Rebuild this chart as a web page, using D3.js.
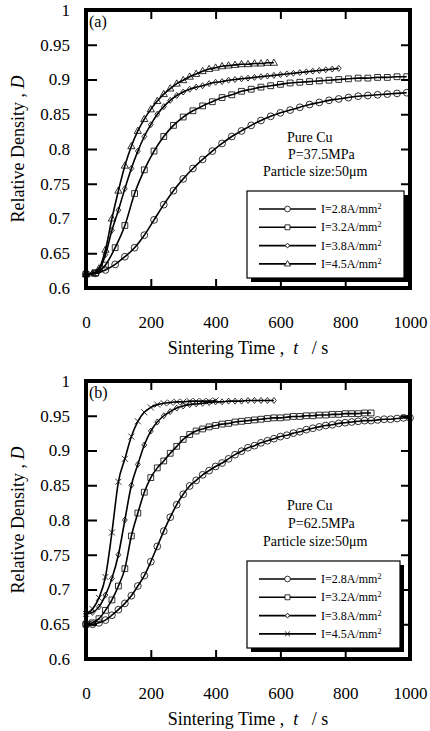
<!DOCTYPE html>
<html>
<head>
<meta charset="utf-8">
<script src="https://cdn.jsdelivr.net/npm/d3@7"></script>
<style>
  body { margin: 0; background: #fff; }
  text { font-family: "Liberation Serif", "Times New Roman", serif; fill: #000; }
</style>
</head>
<body>
<div id="chart-area"></div>
<script>
// sampling times (s)
var time30 = [0, 30, 60, 90, 120, 150, 180, 210, 240, 270, 300, 330, 360, 390, 420, 450, 480,
    510, 540, 570, 600, 630, 660, 690, 720, 750, 780, 810, 840, 870, 900, 930, 960, 990];
var time20 = [0, 20, 40, 60, 80, 100, 120, 140, 160, 180, 200, 220, 240, 260, 280, 300, 320,
    340, 360, 380, 400, 420, 440, 460, 480, 500, 520, 540, 560, 580, 600, 620, 640, 660, 680,
    700, 720, 740, 760, 780, 800, 820, 840, 860, 880, 900, 920, 940, 960, 980, 1000];

// (a) P = 37.5 MPa
var a28 = [0.620, 0.621, 0.626, 0.634, 0.645, 0.658, 0.676, 0.698, 0.720, 0.740, 0.757, 0.772,
    0.785, 0.797, 0.808, 0.818, 0.826, 0.834, 0.841, 0.847, 0.852, 0.856, 0.860, 0.864, 0.867,
    0.870, 0.872, 0.874, 0.876, 0.877, 0.878, 0.879, 0.880, 0.881];
var a32 = [0.620, 0.622, 0.633, 0.658, 0.690, 0.736, 0.770, 0.797, 0.818, 0.834, 0.846, 0.855,
    0.862, 0.868, 0.874, 0.878, 0.883, 0.886, 0.889, 0.891, 0.893, 0.895, 0.896, 0.897, 0.898,
    0.899, 0.900, 0.901, 0.902, 0.902, 0.903, 0.903, 0.904, 0.904];
var a38 = [0.620, 0.621, 0.626, 0.648, 0.683, 0.712, 0.743, 0.772, 0.797, 0.818, 0.835, 0.850,
    0.861, 0.870, 0.877, 0.882, 0.886, 0.889, 0.891, 0.894, 0.896, 0.897, 0.899, 0.900, 0.901,
    0.902, 0.903, 0.904, 0.905, 0.906, 0.907, 0.908, 0.909, 0.910, 0.911, 0.912, 0.913, 0.914,
    0.915, 0.916];
var a45 = [0.620, 0.621, 0.628, 0.655, 0.700, 0.740, 0.776, 0.804, 0.826, 0.843, 0.857, 0.869,
    0.879, 0.887, 0.894, 0.899, 0.904, 0.908, 0.912, 0.915, 0.917, 0.919, 0.920, 0.921, 0.922,
    0.922, 0.923, 0.923, 0.924, 0.924];

// (b) P = 62.5 MPa
var b28 = [0.650, 0.650, 0.652, 0.656, 0.663, 0.671, 0.680, 0.691, 0.705, 0.720, 0.740, 0.762,
    0.784, 0.804, 0.822, 0.837, 0.849, 0.857, 0.865, 0.871, 0.877, 0.882, 0.888, 0.894, 0.899,
    0.904, 0.907, 0.911, 0.914, 0.917, 0.920, 0.922, 0.925, 0.927, 0.930, 0.932, 0.934, 0.936,
    0.937, 0.939, 0.940, 0.941, 0.942, 0.943, 0.943, 0.944, 0.945, 0.945, 0.946, 0.947, 0.947];
var b32 = [0.650, 0.652, 0.658, 0.670, 0.685, 0.705, 0.730, 0.777, 0.810, 0.840, 0.861, 0.875,
    0.885, 0.896, 0.906, 0.916, 0.923, 0.928, 0.931, 0.934, 0.936, 0.938, 0.939, 0.941, 0.942,
    0.943, 0.944, 0.945, 0.946, 0.947, 0.947, 0.948, 0.949, 0.949, 0.950, 0.950, 0.951, 0.951,
    0.952, 0.952, 0.953, 0.953, 0.953, 0.954, 0.954];
var b38 = [0.665, 0.667, 0.675, 0.692, 0.716, 0.750, 0.800, 0.850, 0.880, 0.908, 0.928, 0.941,
    0.950, 0.956, 0.961, 0.964, 0.966, 0.967, 0.968, 0.969, 0.970, 0.970, 0.971, 0.971, 0.971,
    0.972, 0.972, 0.972, 0.972, 0.972];
var b45 = [0.665, 0.672, 0.688, 0.718, 0.782, 0.855, 0.888, 0.920, 0.942, 0.955, 0.962, 0.966,
    0.968, 0.969, 0.970, 0.970, 0.971, 0.971, 0.971, 0.971, 0.972];

var xTicks = [0, 200, 400, 600, 800, 1000];
var yTicks = [0.6, 0.65, 0.7, 0.75, 0.8, 0.85, 0.9, 0.95, 1];
var currents = ["I=2.8A/mm", "I=3.2A/mm", "I=3.8A/mm", "I=4.5A/mm"];

var width = 430, height = 731;
var left = 86, plotW = 324, plotH = 278;

var svg = d3.select("#chart-area")
    .append("svg")
        .attr("width", width)
        .attr("height", height);

svg.append("rect").attr("width", width).attr("height", height).attr("fill", "#fff");

// marker outlines, centred on 0,0
var shapes = {
    circle: function(r){ return "M" + (-r) + ",0A" + r + "," + r + " 0 1,0 " + r + ",0A" + r + "," + r + " 0 1,0 " + (-r) + ",0Z"; },
    square: function(r){ return "M" + (-r) + "," + (-r) + "H" + r + "V" + r + "H" + (-r) + "Z"; },
    diamond: function(r){ return "M0," + (-r * 1.25) + "L" + r + ",0L0," + (r * 1.25) + "L" + (-r) + ",0Z"; },
    triangle: function(r){ return "M0," + (-r) + "L" + (r * 0.95) + "," + (r * 0.65) + "L" + (-r * 0.95) + "," + (r * 0.65) + "Z"; },
    cross: function(r){ return "M" + (-r) + "," + (-r) + "L" + r + "," + r + "M" + (-r) + "," + r + "L" + r + "," + (-r); }
};
var sizes = { circle: 3.4, square: 2.9, diamond: 2.4, triangle: 3.8, cross: 3 };

var panels = [
    { top: 10, tag: "(a)", pressure: "P=37.5MPa",
      note: [132, 149, 166],
      series: [
        { t: time30, v: a28, shape: "circle" },
        { t: time30, v: a32, shape: "square" },
        { t: time20.slice(0, a38.length), v: a38, shape: "diamond" },
        { t: time20.slice(0, a45.length), v: a45, shape: "triangle" }
      ],
      legend: { x: 247, y: 181, w: 157, h: 87 } },
    { top: 381, tag: "(b)", pressure: "P=62.5MPa",
      note: [129, 147, 165],
      series: [
        { t: time20.slice(0, b28.length), v: b28, shape: "circle" },
        { t: time20.slice(0, b32.length), v: b32, shape: "square" },
        { t: time20.slice(0, b38.length), v: b38, shape: "diamond" },
        { t: time20.slice(0, b45.length), v: b45, shape: "cross" }
      ],
      legend: { x: 247, y: 180, w: 153, h: 87 } }
];

panels.forEach(function(p){ drawPanel(p); });

function drawPanel(p) {
    var g = svg.append("g")
        .attr("transform", "translate(" + left + ", " + p.top + ")");

    var x = d3.scaleLinear().domain([0, 1000]).range([0, plotW]);
    var y = d3.scaleLinear().domain([0.6, 1]).range([plotH, 0]);

    // X Axis (ticks inward)
    var xAxis = g.append("g")
        .attr("transform", "translate(0," + plotH + ")")
        .call(d3.axisBottom(x).tickValues(xTicks).tickSize(-9).tickPadding(28)
            .tickFormat(d3.format("d")));
    var xTop = g.append("g")
        .call(d3.axisTop(x).tickValues(xTicks).tickSize(-9).tickFormat(""));

    // Y Axis
    var yAxis = g.append("g")
        .call(d3.axisLeft(y).tickValues(yTicks).tickSize(-11).tickPadding(16)
            .tickFormat(function(d){ return String(+d.toFixed(2)); }));
    var yRight = g.append("g")
        .attr("transform", "translate(" + plotW + ",0)")
        .call(d3.axisRight(y).tickValues(yTicks).tickSize(-9).tickFormat(""));

    [xAxis, xTop, yAxis, yRight].forEach(function(a){
        a.select(".domain").remove();
        a.selectAll(".tick line").attr("stroke", "#000").attr("stroke-width", 2);
        a.selectAll("text")
            .attr("font-family", "Liberation Serif, serif")
            .attr("font-size", "17px")
            .attr("fill", "#000");
    });

    // curves + markers
    var line = d3.line()
        .x(function(d){ return x(d[0]); })
        .y(function(d){ return y(d[1]); })
        .curve(d3.curveMonotoneX);

    p.series.forEach(function(s){
        var pts = s.t.map(function(t, i){ return [t, s.v[i]]; });
        g.append("path")
            .datum(pts)
            .attr("fill", "none")
            .attr("stroke", "#000")
            .attr("stroke-width", 1.6)
            .attr("d", line);
        g.selectAll(null)
            .data(pts)
            .enter()
            .append("path")
                .attr("transform", function(d){ return "translate(" + x(d[0]) + "," + y(d[1]) + ")"; })
                .attr("d", shapes[s.shape](sizes[s.shape]))
                .attr("fill", "none")
                .attr("stroke", "#000")
                .attr("stroke-width", 0.8);
    });

    // frame
    g.append("rect")
        .attr("width", plotW)
        .attr("height", plotH)
        .attr("fill", "none")
        .attr("stroke", "#000")
        .attr("stroke-width", 4);

    g.append("text")
        .attr("x", 3)
        .attr("y", 17)
        .attr("font-size", "16px")
        .text(p.tag);

    // annotation
    g.append("text").attr("x", 287 - left).attr("y", p.note[0]).attr("font-size", "14px").text("Pure Cu");
    g.append("text").attr("x", 288 - left).attr("y", p.note[1]).attr("font-size", "14px").text(p.pressure);
    g.append("text").attr("x", 263 - left).attr("y", p.note[2]).attr("font-size", "14px").text("Particle size:50\u03bcm");

    // legend
    var L = p.legend;
    var lg = g.append("g").attr("transform", "translate(" + (L.x - left) + "," + L.y + ")");
    lg.append("rect").attr("x", 4).attr("y", 4).attr("width", L.w).attr("height", L.h).attr("fill", "#000");
    lg.append("rect").attr("width", L.w).attr("height", L.h)
        .attr("fill", "#fff").attr("stroke", "#000").attr("stroke-width", 1.2);

    p.series.forEach(function(s, i){
        var ry = 18 + i * 18.3;
        lg.append("line")
            .attr("x1", 12).attr("x2", 69)
            .attr("y1", ry).attr("y2", ry)
            .attr("stroke", "#000").attr("stroke-width", 1.6);
        lg.append("path")
            .attr("transform", "translate(40.5," + ry + ")")
            .attr("d", shapes[s.shape](sizes[s.shape] * 0.85))
            .attr("fill", "#fff")
            .attr("stroke", "#000")
            .attr("stroke-width", 0.8);
        var tx = lg.append("text")
            .attr("x", 74)
            .attr("y", ry + 4)
            .attr("font-size", "12px")
            .text(currents[i]);
        tx.append("tspan").attr("font-size", "8px").attr("dy", -4).text("2");
    });

    // X Label
    var xl = g.append("text")
        .attr("x", plotW / 2)
        .attr("y", plotH + 66)
        .attr("font-size", "18px")
        .attr("text-anchor", "middle")
        .attr("xml:space", "preserve");
    xl.append("tspan").text("Sintering Time ,  ");
    xl.append("tspan").attr("font-style", "italic").text("t");
    xl.append("tspan").text("\u00a0\u00a0\u00a0/ s");

    // Y Label
    var yl = g.append("text")
        .attr("transform", "rotate(-90)")
        .attr("x", -(plotH / 2))
        .attr("y", -62)
        .attr("font-size", "18px")
        .attr("text-anchor", "middle");
    yl.append("tspan").text("Relative Density ,  ");
    yl.append("tspan").attr("font-style", "italic").text("D");
}
</script>
</body>
</html>
